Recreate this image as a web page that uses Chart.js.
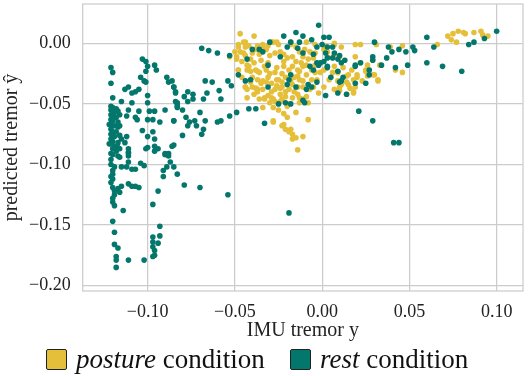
<!DOCTYPE html>
<html><head><meta charset="utf-8">
<script src="https://cdn.jsdelivr.net/npm/chart.js@4.4.1/dist/chart.umd.min.js"></script>
<style>
html,body{margin:0;padding:0;background:#fff;}
#wrap{position:relative;width:529px;height:376px;overflow:hidden;}
#c{position:absolute;left:0;top:0;}
.item{position:absolute;top:347px;height:24px;display:flex;align-items:center;font-family:"Liberation Serif",serif;font-size:27px;line-height:24px;color:#111;white-space:nowrap;}
.sw{width:19px;height:19px;border:1px solid #222;border-radius:2px;display:inline-block;margin-right:9px;flex:none;}
</style></head>
<body><div id="wrap"><canvas id="c" width="529" height="376"></canvas>
<div id="legend">
<div class="item" style="left:46px"><span class="sw" style="background:#E6BF3A"></span><span><i>posture</i> condition</span></div>
<div class="item" style="left:290px"><span class="sw" style="background:#03776B"></span><span><i>rest</i> condition</span></div>
</div></div>
<script>
const seriesNames = ["posture condition", "rest condition"];
const xTicks = [-0.10, -0.05, 0.00, 0.05, 0.10];
const yTicks = [-0.20, -0.15, -0.10, -0.05, 0.00];

const restX = [-0.121,-0.120,-0.121,-0.120,-0.121,-0.120,-0.118,-0.121,-0.119,-0.117,-0.121,-0.120,-0.118,-0.116,-0.121,-0.120,-0.117,-0.121,-0.119,-0.117,-0.121,-0.120,-0.118,-0.121,-0.119,-0.116,-0.121,-0.120,-0.117,-0.121,-0.119,-0.117,-0.120,-0.118,-0.121,-0.120,-0.117,-0.121,-0.116,-0.115,-0.116,-0.122,-0.122,-0.121,-0.120,-0.121,-0.119,-0.120,
-0.103,-0.101,-0.100,-0.101,-0.096,-0.095,-0.104,-0.102,-0.101,-0.105,-0.107,-0.109,-0.111,-0.113,-0.100,-0.100,-0.109,-0.115,-0.089,-0.088,-0.085,-0.084,-0.083,-0.083,-0.105,-0.099,-0.096,-0.090,-0.111,-0.112,-0.106,-0.100,-0.097,-0.093,-0.085,-0.103,-0.097,-0.100,-0.096,-0.096,-0.101,-0.100,-0.094,-0.090,-0.088,-0.085,-0.112,-0.113,-0.111,-0.111,-0.107,
-0.111,-0.111,-0.116,-0.096,-0.090,-0.088,-0.104,-0.102,-0.111,-0.112,-0.115,-0.119,-0.120,-0.120,-0.121,-0.109,-0.107,-0.087,-0.089,-0.085,-0.091,-0.091,-0.083,-0.120,-0.119,-0.117,-0.115,-0.111,-0.109,-0.107,-0.105,-0.116,-0.094,-0.120,-0.119,-0.114,-0.097,-0.120,-0.093,-0.119,-0.093,-0.097,-0.097,-0.094,-0.097,-0.096,-0.119,-0.117,-0.096,-0.097,-0.118,-0.118,-0.111,-0.102,-0.118,-0.079,-0.070,-0.054,-0.019,
-0.069,-0.065,-0.060,-0.053,-0.067,-0.063,-0.054,-0.052,-0.059,-0.066,-0.068,-0.058,-0.086,-0.085,-0.084,-0.077,-0.074,-0.079,-0.077,-0.074,-0.084,-0.083,-0.083,-0.080,-0.070,-0.049,-0.053,-0.058,-0.060,-0.078,-0.076,-0.073,-0.067,-0.077,-0.072,-0.068,-0.085,-0.080,-0.069,-0.086,
-0.042,-0.038,-0.033,-0.044,-0.041,-0.031,-0.043,-0.040,-0.034,-0.030,-0.022,-0.018,-0.020,-0.031,-0.019,-0.021,-0.025,
-0.002,-0.015,-0.011,0.001,0.004,-0.006,-0.013,-0.003,0.000,0.003,0.006,0.007,0.010,-0.001,0.001,-0.003,0.003,-0.007,0.011,0.005,-0.008,-0.003,0.010,0.019,0.014,0.002,0.021,-0.018,-0.010,
0.009,0.012,0.006,0.009,0.013,-0.002,-0.005,0.003,0.009,0.019,0.011,0.019,0.002,0.003,-0.005,-0.011,-0.014,-0.024,-0.036,-0.020,-0.018,-0.015,-0.009,-0.006,-0.011,
0.030,0.038,0.040,0.044,0.048,0.052,0.053,0.060,0.064,0.084,0.087,0.093,0.100,0.037,0.029,0.029,0.022,0.034,0.042,0.049,0.060,0.069,0.080,0.027,0.027,0.025,0.029,0.041,0.044,-0.048];
const restY = [-0.020,-0.024,-0.033,-0.045,-0.052,-0.053,-0.054,-0.055,-0.057,-0.056,-0.059,-0.060,-0.061,-0.059,-0.063,-0.064,-0.065,-0.067,-0.068,-0.069,-0.071,-0.073,-0.073,-0.075,-0.077,-0.076,-0.079,-0.081,-0.082,-0.083,-0.085,-0.086,-0.087,-0.089,-0.091,-0.092,-0.093,-0.096,-0.068,-0.079,-0.087,-0.067,-0.083,-0.100,-0.112,-0.115,-0.125,-0.128,
-0.013,-0.015,-0.019,-0.023,-0.018,-0.022,-0.028,-0.031,-0.032,-0.038,-0.040,-0.041,-0.036,-0.038,-0.043,-0.049,-0.049,-0.048,-0.028,-0.032,-0.036,-0.041,-0.049,-0.052,-0.056,-0.056,-0.056,-0.055,-0.055,-0.060,-0.063,-0.063,-0.063,-0.065,-0.064,-0.072,-0.073,-0.077,-0.079,-0.085,-0.087,-0.086,-0.087,-0.091,-0.091,-0.084,-0.077,-0.082,-0.087,-0.091,-0.061,
-0.090,-0.093,-0.094,-0.089,-0.092,-0.093,-0.099,-0.101,-0.098,-0.102,-0.102,-0.102,-0.105,-0.108,-0.110,-0.104,-0.104,-0.098,-0.102,-0.102,-0.105,-0.110,-0.108,-0.119,-0.122,-0.120,-0.118,-0.116,-0.118,-0.118,-0.119,-0.123,-0.122,-0.131,-0.134,-0.138,-0.133,-0.147,-0.151,-0.156,-0.159,-0.160,-0.164,-0.165,-0.168,-0.171,-0.166,-0.169,-0.175,-0.176,-0.176,-0.179,-0.179,-0.179,-0.185,-0.117,-0.119,-0.125,-0.140,
-0.004,-0.006,-0.008,-0.010,-0.031,-0.032,-0.031,-0.035,-0.039,-0.041,-0.046,-0.046,-0.031,-0.036,-0.040,-0.040,-0.042,-0.044,-0.048,-0.046,-0.048,-0.050,-0.053,-0.055,-0.057,-0.057,-0.060,-0.064,-0.065,-0.061,-0.065,-0.064,-0.064,-0.068,-0.068,-0.071,-0.064,-0.076,-0.075,-0.085,
-0.054,-0.054,-0.066,-0.031,-0.030,-0.036,-0.013,-0.005,-0.007,0.001,0.006,0.001,-0.003,-0.018,-0.030,-0.049,-0.050,
0.015,0.009,0.006,0.005,0.005,0.003,0.001,-0.003,-0.001,-0.003,-0.003,-0.008,-0.010,-0.016,-0.015,-0.016,-0.019,-0.019,-0.016,-0.028,-0.034,-0.032,-0.032,-0.019,-0.042,-0.043,-0.056,-0.050,-0.049,
-0.041,-0.028,-0.012,-0.013,-0.014,-0.018,-0.022,-0.020,-0.023,-0.018,-0.031,-0.033,-0.008,-0.012,-0.009,-0.008,-0.004,-0.011,-0.005,-0.034,-0.026,-0.036,-0.038,-0.036,-0.047,
0.001,-0.003,-0.007,-0.005,-0.007,-0.003,-0.006,0.005,-0.003,-0.001,0.001,0.004,0.010,-0.012,-0.011,-0.014,-0.016,-0.018,-0.020,-0.018,-0.016,-0.019,-0.023,-0.022,-0.026,-0.033,-0.064,-0.082,-0.082,-0.026];

const postureX = [-0.047,-0.039,-0.048,-0.045,-0.044,-0.042,-0.037,-0.034,-0.031,-0.028,-0.025,-0.050,-0.047,-0.045,-0.049,-0.040,-0.036,-0.027,-0.024,-0.022,-0.031,-0.048,-0.042,-0.041,-0.038,-0.036,-0.032,-0.027,-0.022,-0.019,-0.040,-0.037,-0.034,-0.031,-0.025,-0.021,-0.018,-0.044,-0.040,-0.037,-0.034,-0.027,-0.023,-0.019,-0.043,-0.033,-0.029,-0.027,-0.023,-0.017,-0.028,-0.025,-0.020,-0.020,-0.028,-0.023,-0.021,-0.019,-0.017,-0.017,-0.048,-0.053,-0.049,-0.048,-0.043,-0.044,-0.037,
-0.018,-0.015,-0.013,-0.010,-0.007,-0.004,0.001,0.007,0.011,-0.017,-0.011,-0.005,0.003,-0.017,-0.014,-0.011,-0.006,-0.004,0.001,-0.014,-0.009,0.006,0.009,0.014,0.017,0.020,-0.011,-0.017,-0.014,-0.005,0.001,0.010,0.015,0.018,-0.014,-0.011,-0.008,-0.013,0.007,-0.008,-0.018,-0.015,-0.011,-0.028,-0.022,-0.014,-0.034,0.019,0.022,0.025,0.020,0.018,0.019,0.018,0.014,0.032,0.030,0.026,0.029,
0.019,0.022,0.031,0.039,0.046,0.066,0.072,0.074,0.075,0.078,0.081,0.082,0.087,0.091,0.092,0.095,0.077,0.033,0.025,0.029,0.026,0.023,0.032,0.042,0.046,
-0.044,-0.034,-0.029,-0.026,-0.018,-0.009,-0.004,0.002,0.007,0.003,0.007,0.010,-0.043,-0.037,-0.022,-0.013,-0.009,-0.004,-0.001,0.003,0.007,0.009,0.012,0.015,0.009,0.011,0.014,0.010,0.009,0.016,-0.032,-0.026,-0.023,-0.013,-0.011,-0.007,-0.029,-0.024,-0.021,-0.028,-0.024,-0.030,-0.013,-0.009,-0.038,-0.043,-0.036,-0.033,
-0.046,-0.044,-0.041,-0.039,-0.035,-0.033,-0.030,-0.029,-0.026,-0.024,-0.021,-0.019,-0.016,-0.015,-0.012,-0.008,-0.006,-0.003,-0.002,0.004,-0.039,-0.035,-0.031,-0.026,-0.023,-0.020,-0.016,-0.046,-0.041,-0.038,-0.032,-0.030,-0.015,-0.022];
const postureY = [0.008,0.006,-0.001,0.001,-0.003,-0.002,-0.002,-0.001,-0.002,0.001,-0.001,-0.007,-0.007,-0.008,-0.011,-0.008,-0.009,-0.008,-0.007,-0.009,-0.016,-0.022,-0.019,-0.023,-0.022,-0.024,-0.022,-0.024,-0.019,-0.022,-0.028,-0.030,-0.031,-0.028,-0.030,-0.028,-0.031,-0.036,-0.036,-0.040,-0.038,-0.038,-0.036,-0.038,-0.045,-0.046,-0.045,-0.048,-0.046,-0.045,-0.053,-0.055,-0.052,-0.061,-0.064,-0.068,-0.071,-0.073,-0.075,-0.079,-0.003,-0.011,-0.013,-0.022,-0.022,-0.036,-0.038,
-0.001,-0.003,-0.007,-0.005,-0.007,-0.008,-0.005,-0.001,-0.003,-0.011,-0.011,-0.012,-0.011,-0.019,-0.022,-0.019,-0.022,-0.024,-0.022,-0.027,-0.026,-0.024,-0.024,-0.027,-0.022,-0.026,-0.031,-0.034,-0.036,-0.036,-0.036,-0.036,-0.034,-0.040,-0.042,-0.046,-0.049,-0.049,-0.038,-0.063,-0.071,-0.078,-0.077,-0.065,-0.067,-0.088,-0.053,-0.011,-0.016,-0.023,-0.028,-0.030,-0.036,-0.041,-0.042,-0.031,-0.026,-0.018,-0.013,
-0.001,-0.001,-0.001,-0.003,-0.002,-0.001,0.006,0.003,0.008,0.010,0.009,0.008,0.009,0.010,0.007,0.006,0.001,-0.018,-0.022,-0.026,-0.027,-0.031,-0.030,-0.022,-0.024,
0.001,-0.004,0.001,0.001,0.001,0.001,-0.001,-0.002,0.000,-0.007,-0.009,-0.011,-0.018,-0.023,-0.015,-0.023,-0.018,-0.018,-0.024,-0.020,-0.019,-0.024,-0.020,-0.026,-0.031,-0.034,-0.032,-0.039,-0.039,-0.037,-0.032,-0.030,-0.032,-0.030,-0.036,-0.038,-0.040,-0.037,-0.040,-0.046,-0.048,-0.049,-0.045,-0.044,-0.037,-0.038,-0.046,-0.045,
-0.015,-0.010,-0.013,-0.016,-0.014,-0.019,-0.025,-0.033,-0.035,-0.042,-0.044,-0.050,-0.028,-0.015,-0.016,-0.013,-0.030,-0.030,-0.041,-0.030,-0.042,-0.033,-0.043,-0.020,-0.025,-0.012,-0.040,-0.028,-0.032,-0.005,-0.005,-0.010,-0.057,-0.058];

const postureColor = '#E6BF3A';
const restColor = '#03776B';

function pts(xs, ys) { return xs.map((x, i) => ({ x: x, y: ys[i] })); }
function fmt(v) { return (v < 0 ? '\u2212' : '') + Math.abs(v).toFixed(2); }

const frame = {
  id: 'frame',
  beforeDatasetsDraw(chart) {
    const a = chart.chartArea, ctx = chart.ctx;
    ctx.save();
    ctx.strokeStyle = '#cccccc';
    ctx.lineWidth = 1.25;
    ctx.strokeRect(a.left, a.top, a.right - a.left, a.bottom - a.top);
    ctx.restore();
  }
};

const tickFont = { family: 'Liberation Serif', size: 18 };
const titleFont = { family: 'Liberation Serif', size: 20 };

new Chart(document.getElementById('c'), {
  type: 'scatter',
  data: {
    datasets: [
      { label: seriesNames[0], data: pts(postureX, postureY), backgroundColor: postureColor, borderWidth: 0, pointRadius: 2.8, order: 1 },
      { label: seriesNames[1], data: pts(restX, restY), backgroundColor: restColor, borderWidth: 0, pointRadius: 2.8, order: 0 }
    ]
  },
  options: {
    responsive: false,
    animation: false,
    devicePixelRatio: 1,
    layout: { padding: { left: 0, right: 6, top: 4, bottom: 33 } },
    plugins: { legend: { display: false }, tooltip: { enabled: false } },
    scales: {
      x: {
        type: 'linear', min: -0.1372, max: 0.1151,
        afterBuildTicks: s => { s.ticks = xTicks.map(v => ({ value: v })); },
        afterFit: s => { s.height = 52; s.paddingLeft = 0; s.paddingRight = 0; },
        grid: { color: '#cccccc', lineWidth: 1.25, drawTicks: false },
        border: { display: false },
        ticks: { font: tickFont, color: '#222', padding: 10, maxRotation: 0, callback: v => fmt(v) },
        title: { display: true, text: 'IMU tremor y', font: titleFont, color: '#222', padding: { top: 0, bottom: 0 } }
      },
      y: {
        type: 'linear', min: -0.2045, max: 0.0325,
        afterBuildTicks: s => { s.ticks = yTicks.map(v => ({ value: v })); },
        afterFit: s => { s.width = 82.7; s.paddingTop = 0; s.paddingBottom = 0; },
        grid: { color: '#cccccc', lineWidth: 1.25, drawTicks: false },
        border: { display: false },
        ticks: { font: tickFont, color: '#222', padding: 12, callback: v => fmt(v) },
        title: { display: true, text: 'predicted tremor \u0177', font: titleFont, color: '#222', padding: { top: 0, bottom: 0 } }
      }
    }
  },
  plugins: [frame]
});
</script>
</body></html>
